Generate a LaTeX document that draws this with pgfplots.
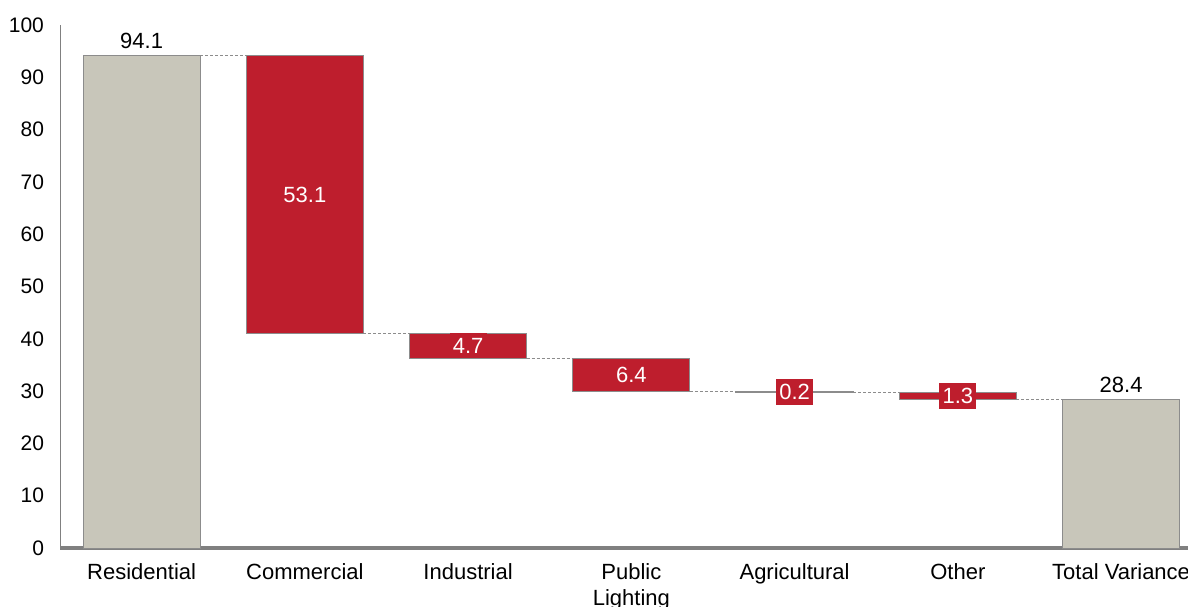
\documentclass[border=0pt]{standalone}
\usepackage{pgfplots}
\pgfplotsset{compat=1.18}
\usepackage{fontspec}
\setmainfont{Liberation Sans}
\definecolor{barred}{RGB}{190,30,45}
\definecolor{bargray}{RGB}{200,198,186}
\definecolor{edgegray}{RGB}{140,140,140}
\definecolor{axgray}{RGB}{128,128,128}
\pgfplotsset{common/.style={width=564pt,height=261.5pt,scale only axis,
  xmin=-0.5,xmax=6.41,ymin=0,ymax=100,clip=false}}
\begin{document}
\begin{tikzpicture}
% floating red bars (stacked on invisible bases)
\begin{axis}[common, hide axis, ybar stacked, bar width=58.5pt]
\addplot[draw=none,fill=none] coordinates {(1,41.0)(2,36.3)(3,29.9)(4,29.7)(5,28.4)};
\addplot[fill=barred,draw=edgegray,line width=0.6pt] coordinates {(1,53.1)(2,4.7)(3,6.4)(4,0.2)(5,1.3)};
\end{axis}
\begin{axis}[common, name=ax,
  axis x line=bottom, axis y line=left,
  x axis line style={axgray,line width=1.6pt,-},
  y axis line style={axgray,line width=0.5pt,-},
  major tick length=0pt,
  ytick={0,10,...,100},
  xtick={0,...,6},
  xticklabels={Residential,Commercial,Industrial,{Public\\Lighting},Agricultural,Other,Total Variance},
  xticklabel style={align=center,font=\fontsize{11}{13}\selectfont,yshift=-4pt},
  yticklabel style={font=\fontsize{10.5}{12}\selectfont,xshift=-4.5pt},
  /pgf/number format/assume math mode=true,
]
% connectors
\addplot[edgegray,line width=0.5pt,dash pattern=on 1.5pt off 1pt,unbounded coords=jump] coordinates {
(0.358,94.1)(0.642,94.1)(nan,nan)
(1.358,41.0)(1.642,41.0)(nan,nan)
(2.358,36.3)(2.642,36.3)(nan,nan)
(3.358,29.9)(3.642,29.9)(nan,nan)
(4.358,29.7)(4.642,29.7)(nan,nan)
(5.358,28.4)(5.642,28.4)};
% totals
\addplot[ybar,bar width=58.5pt,bar shift=0pt,fill=bargray,draw=edgegray,line width=0.5pt,
  nodes near coords,point meta=explicit symbolic,
  nodes near coords style={font=\fontsize{11}{12}\selectfont,text=black}]
  table[meta=l] {
x y l
0 94.1 94.1
6 28.4 28.4
};
% labels of the changes
\addplot[draw=none,mark=none,nodes near coords,point meta=explicit symbolic,
  nodes near coords style={anchor=center,fill=barred,text=white,inner xsep=1.6pt,inner ysep=2.5pt,
  font=\fontsize{11}{12}\selectfont}]
  table[meta=l] {
x y l
1 67.55 53.1
2 38.65 4.7
3 33.1 6.4
4 29.8 0.2
5 29.05 1.3
};
\end{axis}
\pgfresetboundingbox
\path[use as bounding box] ([xshift=-30pt,yshift=-29pt]ax.south west) rectangle ([yshift=12.5pt]ax.north east);
\end{tikzpicture}
\end{document}
